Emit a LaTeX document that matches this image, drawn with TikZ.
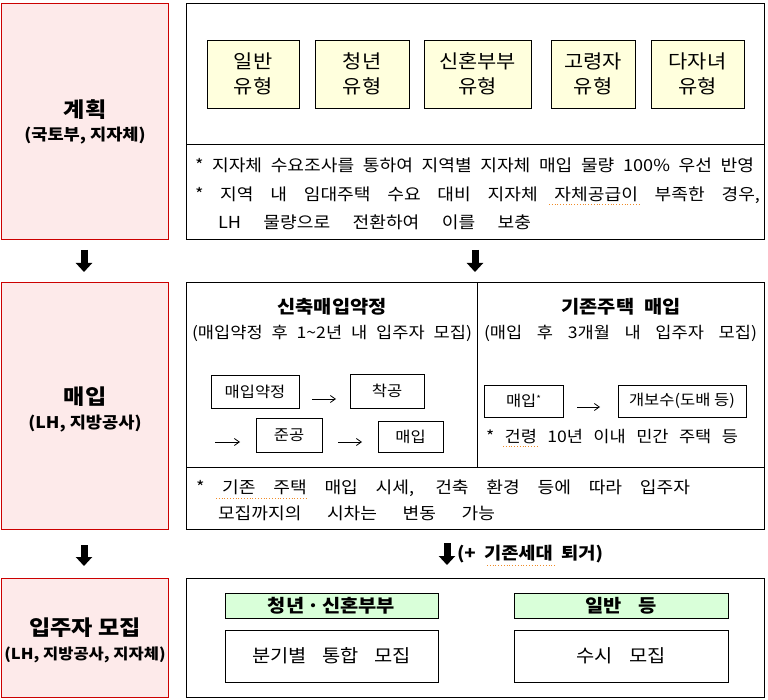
\documentclass[tikz,border=0pt]{standalone}
\usepackage{fontspec}
\setmainfont{Noto Sans CJK KR}[FakeStretch=1.1]
\usetikzlibrary{arrows.meta}
\definecolor{pinkfill}{RGB}{253,234,234}
\definecolor{redline}{RGB}{204,0,0}
\definecolor{yellowfill}{RGB}{255,255,221}
\definecolor{greenfill}{RGB}{217,255,217}
\definecolor{spell}{RGB}{240,140,40}
\newcommand{\sline}[2]{\makebox[#1pt][s]{#2}}
\begin{document}
\begin{tikzpicture}[x=1pt,y=-1pt,
  every node/.style={inner sep=0pt, outer sep=0pt},
  pinkbox/.style={draw=redline, fill=pinkfill, line width=1pt},
  framebox/.style={draw=black, line width=1pt},
  typebox/.style={draw=black, fill=yellowfill, line width=0.8pt, align=center, font=\fontsize{19}{25}\selectfont},
  stepbox/.style={draw=black, line width=0.8pt, font=\fontsize{15}{17}\selectfont},
  greenbar/.style={draw=black, fill=greenfill, line width=0.8pt, font=\fontsize{18}{20}\selectfont\bfseries},
  whitebox/.style={draw=black, line width=0.8pt, font=\fontsize{18}{20}\selectfont},
  bodytext/.style={anchor=west, font=\fontsize{16.5}{20}\selectfont},
  lefttitle/.style={font=\fontsize{21}{24}\selectfont\bfseries},
  leftsub/.style={font=\fontsize{16}{18}\selectfont\bfseries},
  bigdown/.style={line width=7pt, -{Triangle[width=16pt,length=9pt]}},
  thinarrow/.style={line width=0.8pt, -{Straight Barb[length=5pt,width=7pt]}},
  spellmark/.style={spell, line width=0.8pt, dotted}
]
\useasboundingbox (0,0) rectangle (768,700);

% ---------- left column ----------
\node[pinkbox, minimum width=167, minimum height=236] (plan) at (84.5,122) {};
\node[lefttitle] (planT) at (85,110) {계획};
\node[leftsub] (planS) at (85,136) {(국토부, 지자체)};

\node[pinkbox, minimum width=167, minimum height=246] (buy) at (84.5,406) {};
\node[lefttitle] (buyT) at (85,397) {매입};
\node[leftsub] (buyS) at (85,424) {(LH, 지방공사)};

\node[pinkbox, minimum width=167, minimum height=119] (rec) at (84.5,637.5) {};
\node[lefttitle] (recT) at (85,628) {입주자 모집};
\node[leftsub, font=\fontsize{15}{18}\selectfont\bfseries] (recS) at (85,655) {(LH, 지방공사, 지자체)};

% ---------- right top frame ----------
\node[framebox, minimum width=578, minimum height=236] (planR) at (475,122) {};
\coordinate (d1a) at (186,144);
\coordinate (d1b) at (764,144);
\draw[line width=0.8pt] (d1a) -- (d1b);

\node[typebox, minimum width=92, minimum height=68] (t1) at (253,74) {일반\\유형};
\node[typebox, minimum width=94, minimum height=68] (t2) at (362,74) {청년\\유형};
\node[typebox, minimum width=107, minimum height=68] (t3) at (477.5,74) {신혼부부\\유형};
\node[typebox, minimum width=84, minimum height=68] (t4) at (593,74) {고령자\\유형};
\node[typebox, minimum width=93, minimum height=68] (t5) at (697.5,74) {다자녀\\유형};

\node[bodytext] (p1) at (195,165) {\sline{559}{* 지자체 수요조사를 통하여 지역별 지자체 매입 물량 100\% 우선 반영}};
\node[bodytext] (p2) at (195,195) {\sline{565}{* 지역 내 임대주택 수요 대비 지자체 자체공급이 부족한 경우,}};
\node[bodytext] (p3) at (218,222) {\sline{313}{LH 물량으로 전환하여 이를 보충}};
\coordinate (u1a) at (549,204);
\coordinate (u1b) at (640,204);
\draw[spellmark] (u1a) -- (u1b);

% ---------- arrows row 1 -> 2 ----------
\coordinate (a1s) at (84,250);
\coordinate (a1e) at (84,272);
\draw[bigdown] (a1s) -- (a1e);
\coordinate (a2s) at (475,250);
\coordinate (a2e) at (475,272);
\draw[bigdown] (a2s) -- (a2e);

% ---------- right middle frame ----------
\node[framebox, minimum width=578, minimum height=246] (buyR) at (475,406) {};
\coordinate (d2a) at (186,467);
\coordinate (d2b) at (764,467);
\draw[line width=0.8pt] (d2a) -- (d2b);
\coordinate (v2a) at (477.5,283);
\coordinate (v2b) at (477.5,467);
\draw[line width=0.8pt] (v2a) -- (v2b);

\node[font=\fontsize{18}{20}\selectfont\bfseries] (newT) at (332,307) {신축매입약정};
\node[font=\fontsize{16}{18}\selectfont] (newS) at (332,333) {\sline{280}{(매입약정 후 1\textasciitilde2년 내 입주자 모집)}};

\node[stepbox, minimum width=88, minimum height=33] (s1) at (255,391.5) {매입약정};
\node[stepbox, minimum width=74, minimum height=34] (s2) at (387,391) {착공};
\node[stepbox, minimum width=66, minimum height=34] (s3) at (289,435) {준공};
\node[stepbox, minimum width=65, minimum height=31] (s4) at (410.5,436.5) {매입};
\coordinate (r1a) at (312,399);
\coordinate (r1b) at (336,399);
\draw[thinarrow] (r1a) -- (r1b);
\coordinate (r2a) at (215,442);
\coordinate (r2b) at (240,442);
\draw[thinarrow] (r2a) -- (r2b);
\coordinate (r3a) at (338,442);
\coordinate (r3b) at (362,442);
\draw[thinarrow] (r3a) -- (r3b);

\node[font=\fontsize{18}{20}\selectfont\bfseries] (oldT) at (621,307) {기존주택\hspace{10pt}매입};
\node[font=\fontsize{16}{18}\selectfont] (oldS) at (620.5,333) {\sline{273}{(매입 후 3개월 내 입주자 모집)}};
\node[stepbox, minimum width=79, minimum height=32] (o1) at (523.5,401) {매입\raisebox{0.5ex}{\fontsize{9}{9}\selectfont *}};
\node[stepbox, minimum width=128, minimum height=32] (o2) at (682,401) {개보수(도배 등)};
\coordinate (r4a) at (577,407);
\coordinate (r4b) at (600,407);
\draw[thinarrow] (r4a) -- (r4b);
\node[bodytext, font=\fontsize{16}{18}\selectfont] (oldN) at (486,437) {\sline{252}{* 건령 10년 이내 민간 주택 등}};
\coordinate (u2a) at (503,446);
\coordinate (u2b) at (538,446);
\draw[spellmark] (u2a) -- (u2b);

\node[bodytext] (q1) at (196,488) {\sline{494}{* 기존 주택 매입 시세, 건축 환경 등에 따라 입주자}};
\node[bodytext] (q2) at (218,513) {\sline{277}{모집까지의 시차는 변동 가능}};
\coordinate (u3a) at (216,498);
\coordinate (u3b) at (308,498);
\draw[spellmark] (u3a) -- (u3b);

% ---------- arrows row 2 -> 3 ----------
\coordinate (a3s) at (84,545);
\coordinate (a3e) at (84,566);
\draw[bigdown] (a3s) -- (a3e);
\coordinate (a4s) at (447,543);
\coordinate (a4e) at (447,565);
\draw[bigdown] (a4s) -- (a4e);
\node[anchor=west, font=\fontsize{17}{19}\selectfont\bfseries] (move) at (457,554) {\sline{146}{(+ 기존세대 퇴거)}};
\coordinate (u4a) at (487,565);
\coordinate (u4b) at (556,565);
\draw[spellmark] (u4a) -- (u4b);

% ---------- right bottom frame ----------
\node[framebox, minimum width=578, minimum height=119] (recR) at (475,637.5) {};
\node[greenbar, minimum width=213, minimum height=25] (g1) at (331.5,605.5) {청년\hspace{3pt}·\hspace{3pt}신혼부부};
\node[greenbar, minimum width=214, minimum height=25] (g2) at (621,605.5) {\sline{72}{일반 등}};
\node[whitebox, minimum width=213, minimum height=52] (w1) at (331.5,656) {\sline{158}{분기별 통합 모집}};
\node[whitebox, minimum width=214, minimum height=52] (w2) at (621,656) {\sline{89}{수시 모집}};
\end{tikzpicture}
\end{document}
